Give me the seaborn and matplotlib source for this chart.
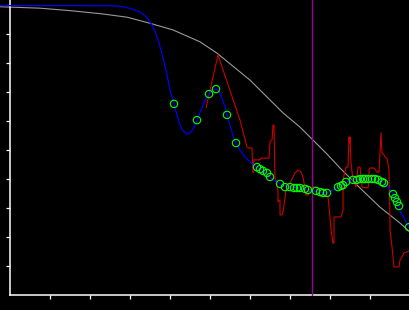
import matplotlib
matplotlib.use("Agg")
import matplotlib.pyplot as plt
import seaborn as sns
import pandas as pd

# ---- data ----
gray_x = [-0.25, 0.75, 1.55, 2.325, 2.925, 3.5, 4.075, 4.75, 5.175, 6.0, 6.825,
          7.25, 7.925, 8.25, 8.75, 9.25, 9.75, 10.0]
gray_y = [0.994, 0.989, 0.980, 0.969, 0.958, 0.937, 0.914, 0.873, 0.834, 0.741,
          0.628, 0.579, 0.486, 0.438, 0.369, 0.303, 0.248, 0.217]

blue_x = [-0.25, 1.75, 2.5, 2.7, 2.875, 3.05, 3.2, 3.325, 3.45, 3.55, 3.625, 3.7,
          3.775, 3.85, 3.925, 4.0, 4.1, 4.175, 4.25, 4.325, 4.425, 4.5, 4.575,
          4.675, 4.775, 4.875, 4.975, 5.05, 5.15, 5.225, 5.3, 5.375, 5.425, 5.5,
          5.575, 5.65, 5.75, 5.875, 6.0, 6.175, 6.325, 6.5, 6.625, 6.75, 7.0,
          7.25, 7.45, 7.55, 7.65, 7.825, 7.925, 8.075, 8.2, 8.325, 8.4, 8.575,
          8.75, 8.95, 9.125, 9.3, 9.4, 9.5, 9.575, 9.675, 9.75, 9.875, 10.0]
blue_y = [0.998, 0.998, 0.997, 0.996, 0.993, 0.986, 0.979, 0.969, 0.952, 0.931,
          0.910, 0.879, 0.845, 0.803, 0.759, 0.707, 0.659, 0.621, 0.586, 0.566,
          0.555, 0.559, 0.572, 0.603, 0.638, 0.672, 0.693, 0.707, 0.710, 0.703,
          0.679, 0.648, 0.621, 0.586, 0.548, 0.524, 0.500, 0.476, 0.459, 0.441,
          0.428, 0.407, 0.393, 0.383, 0.372, 0.369, 0.362, 0.359, 0.359, 0.352,
          0.352, 0.362, 0.372, 0.379, 0.390, 0.397, 0.400, 0.400, 0.400, 0.390,
          0.379, 0.366, 0.348, 0.321, 0.293, 0.259, 0.228]

red_x = [4.9, 5.2, 5.75, 5.925, 5.975, 6.05, 6.075, 6.1, 6.25, 6.275, 6.475, 6.5,
         6.55, 6.575, 6.6, 6.625, 6.675, 6.7, 6.7, 6.75, 6.75, 6.8, 6.825, 6.875,
         6.9, 6.95, 7.125, 7.2, 7.275, 7.325, 7.4, 7.45, 7.5, 7.575, 7.65, 7.7,
         7.75, 7.9, 7.95, 8.0, 8.025, 8.075, 8.1, 8.1, 8.275, 8.325, 8.325, 8.4,
         8.45, 8.475, 8.49, 8.5, 8.525, 8.575, 8.65, 8.7, 8.75, 8.775, 8.8, 8.95,
         8.975, 8.975, 9.0, 9.1, 9.175, 9.225, 9.25, 9.275, 9.3, 9.35, 9.375,
         9.425, 9.475, 9.5, 9.5, 9.55, 9.6, 9.725, 9.75, 9.8, 9.85, 9.925, 10.0]
red_y = [0.645, 0.828, 0.603, 0.510, 0.507, 0.507, 0.421, 0.466, 0.466, 0.472,
         0.472, 0.528, 0.534, 0.586, 0.586, 0.403, 0.390, 0.355, 0.321, 0.328,
         0.276, 0.276, 0.286, 0.334, 0.362, 0.372, 0.421, 0.431, 0.424, 0.407,
         0.345, 0.345, 0.362, 0.372, 0.372, 0.362, 0.345, 0.345, 0.338, 0.269,
         0.224, 0.179, 0.179, 0.269, 0.269, 0.293, 0.397, 0.441, 0.441, 0.545,
         0.524, 0.545, 0.455, 0.397, 0.372, 0.441, 0.441, 0.407, 0.372, 0.369,
         0.397, 0.431, 0.438, 0.438, 0.424, 0.424, 0.490, 0.559, 0.490, 0.483,
         0.476, 0.472, 0.431, 0.259, 0.224, 0.166, 0.097, 0.097, 0.121, 0.131,
         0.145, 0.148, 0.155]

pts_x = [4.1, 4.675, 4.975, 5.15, 5.425, 5.65, 6.175, 6.25, 6.325, 6.425, 6.5,
         6.75, 6.875, 7.0, 7.1, 7.175, 7.25, 7.375, 7.45, 7.65, 7.75, 7.825,
         7.925, 8.2, 8.275, 8.325, 8.4, 8.575, 8.675, 8.75, 8.825, 8.875, 8.95,
         9.05, 9.125, 9.2, 9.3, 9.35, 9.575, 9.625, 9.675, 9.725, 9.975]
pts_y = [0.659, 0.603, 0.693, 0.710, 0.621, 0.524, 0.441, 0.434, 0.428, 0.421,
         0.407, 0.383, 0.372, 0.372, 0.369, 0.369, 0.369, 0.366, 0.362, 0.359,
         0.355, 0.352, 0.352, 0.372, 0.376, 0.379, 0.390, 0.397, 0.397, 0.400,
         0.400, 0.400, 0.400, 0.400, 0.400, 0.397, 0.390, 0.386, 0.348, 0.334,
         0.321, 0.307, 0.234]

vline_x = 7.55
x_ticks = [1, 2, 3, 4, 5, 6, 7, 8, 9]
y_ticks = [0.1, 0.2, 0.3, 0.4, 0.5, 0.6, 0.7, 0.8, 0.9, 1.0]

# ---- figure ----
sns.set_theme(style="dark", rc={"axes.facecolor": "black",
                                "figure.facecolor": "black",
                                "savefig.facecolor": "black"})

fig = plt.figure(figsize=(4.1, 3.1), dpi=100)
ax = fig.add_axes([0, 0, 1, 1])
ax.set_facecolor("black")

y_lo, y_hi = -15 / 290, 295 / 290

sns.lineplot(x=gray_x, y=gray_y, sort=False, estimator=None, color="#9a9a9a",
             lw=0.8, ax=ax, zorder=2)
sns.lineplot(x=red_x, y=red_y, sort=False, estimator=None, color="#cc0000",
             lw=0.8, ax=ax, zorder=3)
sns.lineplot(x=blue_x, y=blue_y, sort=False, estimator=None, color="#0000f0",
             lw=0.9, ax=ax, zorder=4)
ax.axvline(vline_x, ymin=(0 - y_lo) / (y_hi - y_lo), ymax=1,
           color="#9a009a", lw=1.0, zorder=3.5)
sns.scatterplot(x=pts_x, y=pts_y, s=28, color="lime", facecolor="none",
                edgecolor="lime", linewidth=0.8, ax=ax, zorder=5)

ax.set_xlim(-0.25, 10.0)
ax.set_ylim(y_lo, y_hi)
ax.grid(False)

for side in ["top", "right"]:
    ax.spines[side].set_visible(False)
ax.spines["left"].set_position(("data", 0))
ax.spines["bottom"].set_position(("data", 0))
ax.spines["left"].set_bounds(0, y_hi)
ax.spines["bottom"].set_bounds(0, 10.0)
for side in ["left", "bottom"]:
    ax.spines[side].set_visible(True)
    ax.spines[side].set_color("white")
    ax.spines[side].set_linewidth(1.1)

ax.set_xticks(x_ticks)
ax.set_yticks(y_ticks)
ax.tick_params(axis="both", direction="out", length=2.6, width=0.9,
               color="white", labelleft=False, labelbottom=False,
               left=True, bottom=True)
ax.set_xlabel("")
ax.set_ylabel("")

fig.savefig("out.png", dpi=100)
